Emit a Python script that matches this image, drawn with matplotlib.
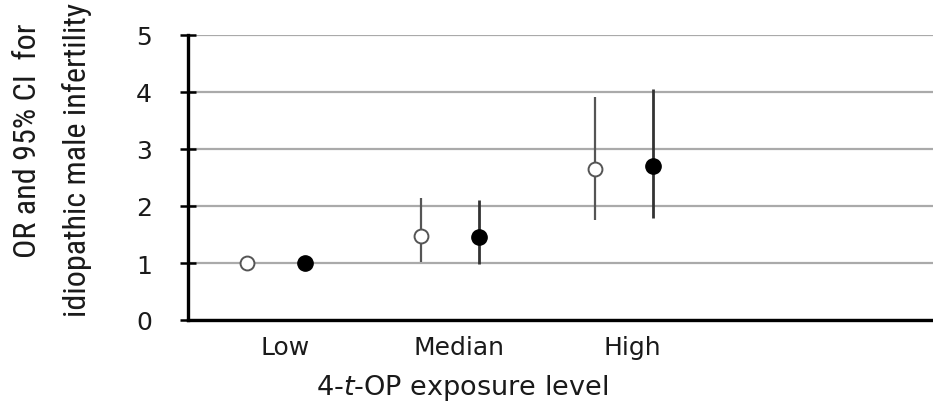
import matplotlib
matplotlib.use("Agg")
import matplotlib.pyplot as plt
import matplotlib.transforms as mtransforms
from matplotlib import font_manager
import numpy as np

# Exposure categories and odds ratios with 95% confidence intervals
categories = ["Low", "Median", "High"]
or_crude = [1.0, 1.48, 2.65]
ci_low_crude = [1.0, 1.02, 1.76]
ci_high_crude = [1.0, 2.14, 3.92]
or_adj = [1.0, 1.46, 2.71]
ci_low_adj = [1.0, 0.98, 1.79]
ci_high_adj = [1.0, 2.11, 4.06]
y_ticks = [0, 1, 2, 3, 4, 5]

plt.rcParams["font.family"] = ["DejaVu Sans"]
plt.rcParams["mathtext.fontset"] = "custom"
plt.rcParams["mathtext.it"] = "DejaVu Sans:italic"
plt.rcParams["mathtext.rm"] = "DejaVu Sans"

# narrow face for the rotated axis title
names = {f.name for f in font_manager.fontManager.ttflist}
narrow = "DejaVu Sans"
for cand in ["Liberation Sans Narrow", "DejaVu Sans Condensed",
             "Roboto Condensed", "Open Sans Condensed", "Roboto",
             "Liberation Sans"]:
    if cand in names:
        narrow = cand
        break

text_color = "#1a1a1a"

fig = plt.figure(figsize=(9.33, 4.10), dpi=100)
ax = fig.add_axes([188 / 933, 1 - 321 / 410, 1 - 188 / 933, (321 - 36) / 410])

x = np.arange(len(categories))
off = 0.167

lo_c = np.array(or_crude) - np.array(ci_low_crude)
hi_c = np.array(ci_high_crude) - np.array(or_crude)
lo_a = np.array(or_adj) - np.array(ci_low_adj)
hi_a = np.array(ci_high_adj) - np.array(or_adj)

ax.errorbar(x - off, or_crude, yerr=[lo_c, hi_c], fmt="o", color="#555555",
            ecolor="#555555", elinewidth=1.6, capsize=0, markersize=10,
            markerfacecolor="white", markeredgecolor="#555555",
            markeredgewidth=1.4, zorder=3)
ax.errorbar(x + off, or_adj, yerr=[lo_a, hi_a], fmt="o", color="black",
            ecolor="#333333", elinewidth=2.0, capsize=0, markersize=11,
            markerfacecolor="black", markeredgecolor="black", zorder=3)

ax.set_xlim(-0.506, 3.78)
ax.set_ylim(0, 5)
ax.set_yticks(y_ticks)
ax.set_yticklabels([str(v) for v in y_ticks], fontsize=18, color=text_color)
ax.tick_params(axis="y", direction="inout", length=12, width=1.8,
               pad=20, color="black")

ax.set_xticks(x)
ax.set_xticklabels(categories, fontsize=18, color=text_color)
ax.tick_params(axis="x", length=0, pad=11)
shift = mtransforms.ScaledTranslation(9 / 100, 0, fig.dpi_scale_trans)
for lab in ax.get_xticklabels():
    lab.set_transform(lab.get_transform() + shift)

ax.grid(axis="y", color="#aaaaaa", linewidth=1.6)
ax.set_axisbelow(True)
for s in ["top", "right"]:
    ax.spines[s].set_visible(False)
for s in ["left", "bottom"]:
    ax.spines[s].set_linewidth(2.4)
    ax.spines[s].set_color("black")

fig.text(462 / 933, 1 - 388 / 410, "4-$\\it{t}$-OP exposure level",
         ha="center", va="center", fontsize=19.5, color=text_color)

# rotated two-line axis title, one shared size fitted to the line lengths
lines = [("OR and 95% CI  for", 28, 141, 250), ("idiopathic male infertility", 77, 160, 294)]
renderer = fig.canvas.get_renderer()
texts, sizes = [], []
for txt, xc, yc, length in lines:
    t = fig.text(xc / 933, 1 - yc / 410, txt, rotation=90, ha="center",
                 va="center", fontsize=20, color=text_color, family=narrow)
    h = t.get_window_extent(renderer).height
    texts.append(t)
    sizes.append(20 * length / h)
shared = min(24, 0.5 * (sizes[0] + sizes[1]))
for t in texts:
    t.set_fontsize(shared)

fig.savefig("out.png", dpi=100)
